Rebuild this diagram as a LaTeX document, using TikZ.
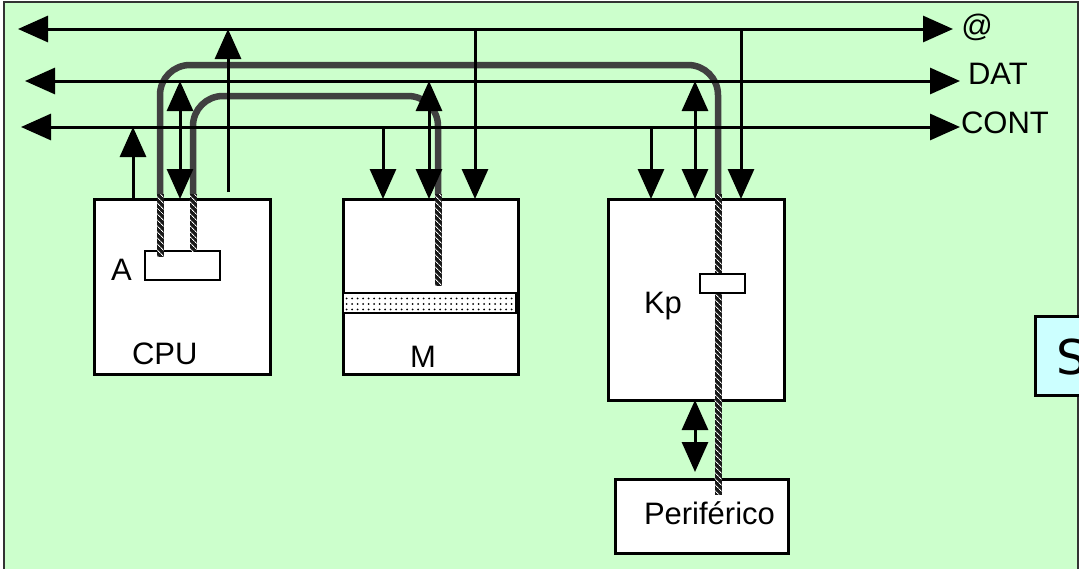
\documentclass[tikz,border=0pt]{standalone}
\usepackage{fontspec}
\setmainfont{Liberation Sans}
\newfontfamily\dejavu{DejaVu Sans}
\usetikzlibrary{arrows.meta,patterns.meta}
\definecolor{panel}{HTML}{CCFFCC}
\definecolor{cyanbox}{HTML}{CCFFFF}
\definecolor{cablegray}{HTML}{404040}
\definecolor{framegray}{HTML}{333333}

\begin{document}
\begin{tikzpicture}[x=1pt,y=-1pt,
  >={Triangle[length=30pt,width=26pt]},
  lbl/.style={font=\fontsize{31}{37}\selectfont, inner sep=0pt, outer sep=0pt},
  unit/.style={draw, line width=3pt, fill=white, inner sep=0pt, outer sep=0pt},
  reg/.style={draw, line width=2.5pt, fill=white, inner sep=0pt, outer sep=0pt},
  bus/.style={line width=3pt},
  cable/.style={line width=6.5pt, draw=cablegray, rounded corners=30pt},
  rope/.style={fill=black!90, postaction={pattern={Lines[angle=-45,distance=4pt,line width=0.9pt]}, pattern color=white}},
  dotband/.style={draw, line width=2pt, preaction={fill=white}, pattern={Dots[distance=5.5pt,radius=1pt]}, pattern color=black, inner sep=0pt, outer sep=0pt}
]
\useasboundingbox (0,0) rectangle (1079,568);

% panel
\path[fill=white] (0,0) rectangle (1079,568);
\draw[fill=panel, draw=framegray, line width=2pt] (4,2) rectangle (1078,590);

% system box at the right edge
\node[draw, line width=2.5pt, fill=cyanbox, minimum width=90pt, minimum height=79pt, anchor=north west, inner sep=0pt] (sbox) at (1034,315) {};
\node[font=\dejavu\fontsize{48}{56}\selectfont, anchor=base west, inner sep=0pt] (tS) at (1056,374) {S};

% cable anchor points
\coordinate (ra1) at (160,194); \coordinate (ra2) at (160,257);
\coordinate (rb1) at (193,194); \coordinate (rb2) at (193,251);
\coordinate (rm1) at (438,194); \coordinate (rm2) at (438,286);
\coordinate (rk1) at (718,194); \coordinate (rk2) at (718,495);
\coordinate (oTop) at (0,65);
\coordinate (iTop) at (0,96);

% cables (beneath the buses)
\draw[cable] (ra1) -- (ra1 |- oTop) -- (rk1 |- oTop) -- (rk1);
\draw[cable] (rb1) -- (rb1 |- iTop) -- (rm1 |- iTop) -- (rm1);

% buses
\coordinate (atL) at (18,29);  \coordinate (atR) at (953,29);
\coordinate (datL) at (25,81); \coordinate (datR) at (960,81);
\coordinate (conL) at (21,127); \coordinate (conR) at (960,127);
\draw[bus,<->] (atL) -- (atR);
\draw[bus,<->] (datL) -- (datR);
\draw[bus,<->] (conL) -- (conR);
\node[lbl] (tAt) at (977,27) {@};
\node[lbl, anchor=base west] (tDat) at (968,84) {DAT};
\node[lbl, anchor=base west] (tCont) at (961,133) {CONT};

% units
\node[unit, minimum width=176pt, minimum height=175pt] (cpu) at (182,286.5) {};
\node[unit, minimum width=175pt, minimum height=175pt] (mem) at (430.5,286.5) {};
\node[unit, minimum width=176pt, minimum height=201pt] (kp) at (696,299.5) {};
\node[unit, minimum width=173pt, minimum height=74pt] (per) at (701.5,516) {};
\node[reg, minimum width=75pt, minimum height=29pt] (regA) at (182.5,265.5) {};

% cable runs inside the units
\path[rope] ([xshift=-3.5pt]ra1) rectangle ([xshift=3.5pt]ra2);
\path[rope] ([xshift=-3.5pt]rb1) rectangle ([xshift=3.5pt]rb2);
\path[rope] ([xshift=-3.5pt]rm1) rectangle ([xshift=3.5pt]rm2);
\path[rope] ([xshift=-3.5pt]rk1) rectangle ([xshift=3.5pt]rk2);

\node[reg, minimum width=45pt, minimum height=19pt] (regK) at (722.5,283.5) {};
\node[dotband, minimum width=173pt, minimum height=20pt] (band) at (429.5,303) {};

% labels
\node[lbl, anchor=base west] (tA) at (111,280) {A};
\node[lbl, anchor=base west] (tCPU) at (132,364) {CPU};
\node[lbl, anchor=base west] (tM) at (410,367) {M};
\node[lbl, anchor=base west] (tKp) at (644,313) {Kp};
\node[lbl, anchor=base west] (tPer) at (644,524) {Periférico};

% bus connections
\coordinate (vCpuCtl) at (133,0);
\coordinate (vCpuDat) at (180,0);
\coordinate (cpuAdrFoot) at (228,192);
\coordinate (vMemCtl) at (383,0);
\coordinate (vMemDat) at (429,0);
\coordinate (vMemAdr) at (475,0);
\coordinate (vKpCtl) at (651,0);
\coordinate (vKpDat) at (695,0);
\coordinate (vKpAdr) at (741,0);
\coordinate (perTip) at (695,472);

\draw[bus,->] (cpu.north -| vCpuCtl) -- (conL -| vCpuCtl);
\draw[bus,<->] (datL -| vCpuDat) -- (cpu.north -| vCpuDat);
\draw[bus,->] (cpuAdrFoot) -- (atL -| cpuAdrFoot);

\draw[bus,->] (conL -| vMemCtl) -- (mem.north -| vMemCtl);
\draw[bus,<->] (datL -| vMemDat) -- (mem.north -| vMemDat);
\draw[bus,->] (atL -| vMemAdr) -- (mem.north -| vMemAdr);

\draw[bus,->] (conL -| vKpCtl) -- (kp.north -| vKpCtl);
\draw[bus,<->] (datL -| vKpDat) -- (kp.north -| vKpDat);
\draw[bus,->] (atL -| vKpAdr) -- (kp.north -| vKpAdr);

\draw[bus,<->] (kp.south -| vKpDat) -- (perTip);
\end{tikzpicture}
\end{document}
